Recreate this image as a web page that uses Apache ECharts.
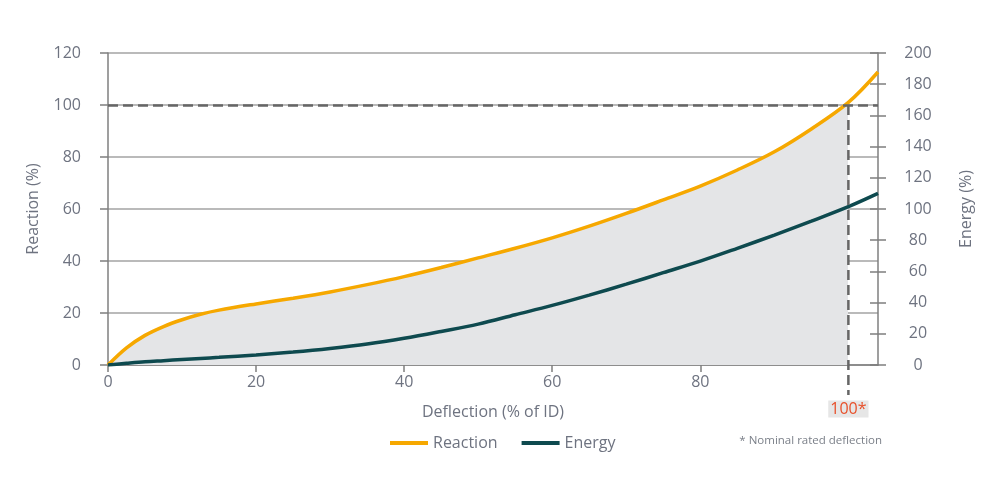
<!DOCTYPE html>
<html>
<head>
<meta charset="utf-8">
<script src="https://cdn.jsdelivr.net/npm/echarts@6/dist/echarts.min.js"></script>
<style>html,body{margin:0;padding:0;background:#fff}#c{width:1000px;height:482px}</style>
</head>
<body>
<div id="c"></div>
<script>
// Deflection (% of ID)
const deflection = [0, 2.5, 5, 7.5, 10, 12.5, 15, 20, 25, 30, 35, 40, 45, 50, 55, 60, 65, 70, 75, 80, 85, 90, 95, 100, 104];
// Reaction (%) - left axis
const reaction = [0, 6.6, 11.4, 14.8, 17.4, 19.5, 21.1, 23.5, 25.7, 28.1, 30.9, 34.0, 37.5, 41.2, 44.9, 48.9, 53.4, 58.3, 63.5, 68.8, 75.0, 82.0, 90.8, 101, 112.7];
// Energy (%) - right axis
const energy = [0, 1.1, 2.1, 2.8, 3.5, 4.2, 4.9, 6.4, 8.3, 10.6, 13.4, 17.1, 21.5, 26.2, 32.2, 38.2, 44.8, 51.8, 59.2, 66.6, 74.8, 83.3, 92.2, 101.5, 110];
const xTicks = [0, 20, 40, 60, 80];
const nominal = 100;
const nominalLabel = '100*';

const txt = '#6e7380';
const font = 'Open Sans';
const chart = echarts.init(document.getElementById('c'));
const reactionData = deflection.map((x, i) => [x, reaction[i]]);
const energyData = deflection.map((x, i) => [x, energy[i]]);
const xMax = deflection[deflection.length - 1];
const cut = nominal / xMax;

chart.setOption({
  animation: false,
  textStyle: { fontFamily: font },
  grid: { left: 108, right: 122, top: 53, bottom: 117 },
  legend: {
    data: ['Reaction', 'Energy'],
    left: 385, top: 430,
    icon: 'rect', itemWidth: 38, itemHeight: 4, itemGap: 24,
    textStyle: { color: txt, fontSize: 16, fontFamily: font }
  },
  xAxis: {
    type: 'value', min: 0, max: xMax, interval: 20,
    name: 'Deflection (% of ID)', nameLocation: 'middle', nameGap: 39,
    nameTextStyle: { color: txt, fontSize: 16 },
    axisLine: { lineStyle: { color: '#7f7f7f', width: 1.5 } },
    axisTick: { show: true, length: 7, lineStyle: { color: '#7f7f7f', width: 1.5 }, customValues: xTicks },
    axisLabel: { color: txt, fontSize: 16, margin: 9, customValues: xTicks },
    splitLine: { show: false }
  },
  yAxis: [
    {
      type: 'value', min: 0, max: 120, interval: 20, position: 'left',
      name: 'Reaction (%)', nameLocation: 'middle', nameGap: 67,
      nameTextStyle: { color: txt, fontSize: 16 },
      axisLine: { show: true, lineStyle: { color: '#7f7f7f', width: 1.5 } },
      axisTick: { show: true, length: 8, lineStyle: { color: '#7f7f7f', width: 1.5 } },
      axisLabel: { color: txt, fontSize: 16, margin: 27 },
      splitLine: { show: true, lineStyle: { color: '#a3a3a3', width: 1.5 } }
    },
    {
      type: 'value', min: 0, max: 200, interval: 20, position: 'right',
      name: 'Energy (%)', nameLocation: 'middle', nameGap: 80,
      nameTextStyle: { color: txt, fontSize: 16 },
      axisLine: { show: true, lineStyle: { color: '#7f7f7f', width: 1.5 } },
      axisTick: { show: true, length: 8, lineStyle: { color: '#7f7f7f', width: 1.5 } },
      axisLabel: { color: txt, fontSize: 16, margin: 40, align: 'center' },
      splitLine: { show: false }
    },
    {
      type: 'value', min: 0, max: 200, interval: 20, position: 'right',
      axisLine: { show: false },
      axisTick: { show: true, inside: true, length: 8, lineStyle: { color: '#7f7f7f', width: 1.5 } },
      axisLabel: { show: false },
      splitLine: { show: false }
    }
  ],
  series: [
    {
      name: 'Reaction', type: 'line', yAxisIndex: 0, data: reactionData,
      smooth: 0.35, symbol: 'none', z: 3,
      color: '#f6a800',
      lineStyle: { color: '#f6a800', width: 3.5 },
      areaStyle: {
        color: new echarts.graphic.LinearGradient(0, 0, 1, 0, [
          { offset: 0, color: '#e4e5e7' },
          { offset: cut, color: '#e4e5e7' },
          { offset: cut, color: 'rgba(255,255,255,0)' },
          { offset: 1, color: 'rgba(255,255,255,0)' }
        ]),
        opacity: 1
      },
      markLine: {
        silent: true, symbol: 'none', animation: false,
        lineStyle: { color: '#666', width: 2.5, type: [10, 5] },
        label: { show: false },
        data: [[{ coord: [0, nominal] }, { coord: [xMax, nominal] }]]
      }
    },
    {
      name: 'Energy', type: 'line', yAxisIndex: 1, data: energyData,
      smooth: 0.35, symbol: 'none', z: 3,
      color: '#0e4a4f',
      lineStyle: { color: '#0e4a4f', width: 3.5 }
    }
  ]
});

const pTop = chart.convertToPixel({ gridIndex: 0 }, [nominal, nominal]);
const pBot = chart.convertToPixel({ gridIndex: 0 }, [nominal, 0]);
chart.setOption({
  graphic: [
    {
      type: 'line', z: 10,
      shape: { x1: pTop[0], y1: pTop[1], x2: pTop[0], y2: pBot[1] + 30 },
      style: { stroke: '#666', lineWidth: 2.5, lineDash: [10, 5] }
    },
    {
      type: 'text', z: 10, x: pTop[0], y: pBot[1] + 44,
      style: {
        text: nominalLabel, fill: '#e8502a', font: '16px "Open Sans"',
        align: 'center', verticalAlign: 'middle',
        backgroundColor: '#e6e6e6', padding: [1, 2, 0, 2]
      }
    },
    {
      type: 'text', z: 10, x: 882, y: 441,
      style: {
        text: '* Nominal rated deflection', fill: '#7a7f88', font: '11.5px "Open Sans"',
        align: 'right', verticalAlign: 'middle'
      }
    }
  ]
});
</script>
</body>
</html>
